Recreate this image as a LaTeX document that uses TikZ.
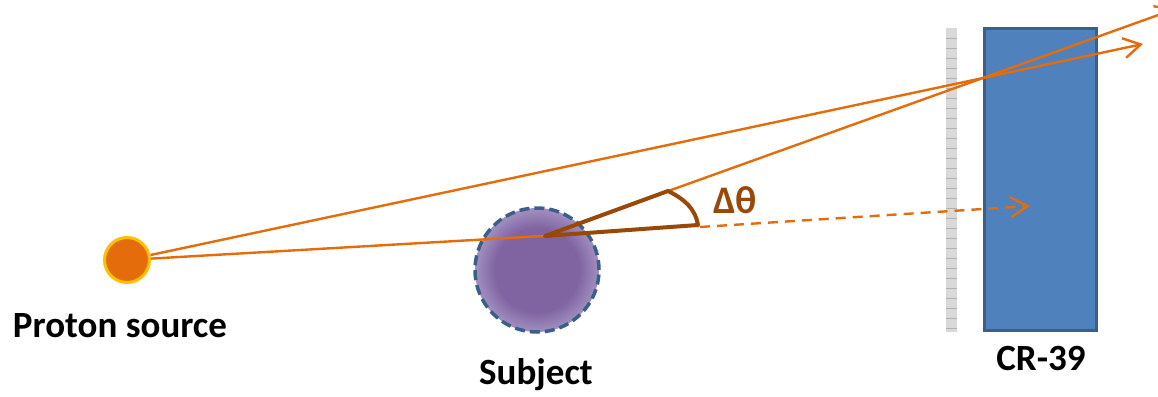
\documentclass[tikz,border=0pt]{standalone}
\usepackage{fontspec}
\setmainfont{Carlito}
\usetikzlibrary{arrows.meta,positioning}

\definecolor{beamorange}{HTML}{E46C0A}
\definecolor{srcgold}{HTML}{FFC000}
\definecolor{wedgebrown}{HTML}{984807}
\definecolor{subjpurple}{HTML}{8064A2}
\definecolor{subjlight}{HTML}{A290BF}
\definecolor{edgeblue}{HTML}{3A5F8B}
\definecolor{crblue}{HTML}{4F81BD}
\definecolor{filmgray}{HTML}{D9D9D9}
\definecolor{filmline}{HTML}{B0B0B0}
\pgfdeclareradialshading{subjshade}{\pgfpoint{0bp}{0bp}}{color(0bp)=(subjpurple); color(17bp)=(subjpurple); color(25bp)=(subjlight); color(50bp)=(subjlight)}

\begin{document}
\begin{tikzpicture}[x=1pt, y=-1pt,
  beam/.style={draw=beamorange, line width=2.4pt},
  barb/.style={-{Straight Barb[length=17pt,width=20pt]}},
  lbl/.style={font=\bfseries\fontsize{37}{40}\selectfont, inner sep=0pt, anchor=base}]
\useasboundingbox (0,0) rectangle (1158,396);

% Quelle, Objekt, Detektor
\node[circle, draw=srcgold, fill=beamorange, line width=3pt, inner sep=0pt, minimum size=45pt] (source) at (127,260) {};
\node[circle, draw=edgeblue, shading=subjshade, line width=3.5pt, dash pattern=on 10pt off 5pt, inner sep=0pt, minimum size=124pt] (subject) at (537,270) {};

% Film vor dem CR-39
\path[fill=filmgray] (946,28) rectangle (957,332);
\foreach \y in {38,48,...,328} {
  \draw[filmline, line width=0.8pt] (946,\y) -- (957,\y);
}
\node[draw=edgeblue, fill=crblue, line width=3pt, inner sep=0pt, minimum width=112pt, minimum height=302pt, anchor=north west] (cr) at (983,27) {};

% Punkte der Strahlen
\coordinate (hit) at (543,236);
\coordinate (tipA) at (1143,44);
\coordinate (tipB) at (1175,9);
\coordinate (dashstart) at (700,227);
\coordinate (dashend) at (1030,206);

% Strahlen
\draw[beam, barb] (source) -- (tipA);
\draw[beam] (source) -- (hit);
\draw[beam, barb] (hit) -- (tipB);
\draw[beam, barb, dash pattern=on 10pt off 7pt] (dashstart) -- (dashend);

% Ablenkwinkel
\coordinate (wV) at (545,236);
\coordinate (wA) at (668,191);
\coordinate (wB) at (698,225);
\draw[wedgebrown, line width=4pt, line join=round, line cap=round] (wA) -- (wV) -- (wB) .. controls (695,208) and (684,199) .. (wA);
\node[font=\bfseries\fontsize{39}{42}\selectfont, text=wedgebrown, inner sep=0pt, anchor=base] (dtheta) at (735,213) {Δθ};

% Beschriftungen
\node[lbl] (lblsource) at (120,337) {Proton source};
\node[lbl] (lblsubject) at (536,384) {Subject};
\node[lbl] (lblcr) at (1041,370) {CR-39};

\end{tikzpicture}
\end{document}
